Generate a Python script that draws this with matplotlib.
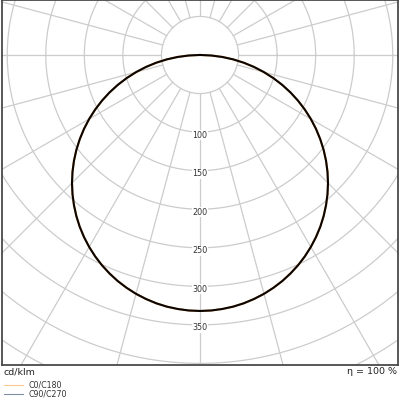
import numpy as np
import matplotlib
matplotlib.use("Agg")
import matplotlib.pyplot as plt

# Data (cd/klm), gamma in degrees
gamma_deg = [0, 2.5, 5, 7.5, 10, 12.5, 15, 17.5, 20, 22.5, 25, 27.5, 30, 32.5, 35, 37.5,
             40, 42.5, 45, 47.5, 50, 52.5, 55, 57.5, 60, 62.5, 65, 67.5, 70, 72.5, 75,
             77.5, 80, 82.5, 85, 87.5, 90]
c0_c180 = [332, 331.7, 330.7, 329.2, 327, 324.1, 320.7, 316.6, 312, 306.7, 300.9, 294.5,
           287.5, 280, 272, 263.4, 254.3, 244.8, 234.8, 224.3, 213.4, 202.1, 190.4, 178.4,
           166, 153.3, 140.3, 127.1, 113.6, 99.8, 85.9, 71.9, 57.7, 43.3, 28.9, 14.5, 1]
c90_c270 = [332, 331.7, 330.7, 329.2, 327, 324.1, 320.7, 316.6, 312, 306.7, 300.9, 294.5,
            287.5, 280, 272, 263.4, 254.3, 244.8, 234.8, 224.3, 213.4, 202.1, 190.4, 178.4,
            166, 153.3, 140.3, 127.1, 113.6, 99.8, 85.9, 71.9, 57.7, 43.3, 28.9, 14.5, 1]
ring_labels = [100, 150, 200, 250, 300, 350]
unit_label = "cd/klm"
eta_label = "η = 100 %"
legend_labels = ["C0/C180", "C90/C270"]

W, H = 400, 400
fig = plt.figure(figsize=(4, 4), dpi=100)
k = 0.771  # px per cd/klm
ax_l, ax_r, ax_t, ax_b = 2, 398, 0, 365
cx, cy = 200, 55
ax = fig.add_axes([ax_l / W, (H - ax_b) / H, (ax_r - ax_l) / W, (ax_b - ax_t) / H])
ax.set_xlim(-(cx - ax_l) / k, (ax_r - cx) / k)
ax.set_ylim(-(ax_b - cy) / k, (cy - ax_t) / k)
ax.set_xticks([])
ax.set_yticks([])
for s in ax.spines.values():
    s.set_color("#4a4a4a")
    s.set_linewidth(1.3)

grid_c = "#cccccc"
t = np.linspace(0, 2 * np.pi, 400)
for r in range(50, 701, 50):
    ax.plot(r * np.cos(t), r * np.sin(t), color=grid_c, lw=0.9, zorder=1)
for a in range(0, 360, 15):
    ar = np.radians(a)
    ax.plot([50 * np.cos(ar), 800 * np.cos(ar)], [50 * np.sin(ar), 800 * np.sin(ar)],
            color=grid_c, lw=0.9, zorder=1)

for r in ring_labels:
    ax.text(0, -(r + 4), str(r), ha="center", va="center", fontsize=5.8, color="#333333",
            bbox=dict(facecolor="white", edgecolor="none", pad=0.3), zorder=3)

def curve(vals):
    g = np.radians(np.array(gamma_deg, dtype=float))
    v = np.array(vals, dtype=float)
    gg = np.concatenate([-g[::-1], g[1:]])
    vv = np.concatenate([v[::-1], v[1:]])
    return vv * np.sin(gg), -vv * np.cos(gg)

x1, y1 = curve(c0_c180)
x2, y2 = curve(c90_c270)
ax.plot(x1, y1, color="#f5b070", lw=1.5, zorder=4)
ax.plot(x2, y2, color="#0a0500", lw=1.5, zorder=5, solid_joinstyle="round")

fig.text(4 / W, 1 - 372 / H, unit_label, ha="left", va="center", fontsize=6.8, color="#222222")
fig.text(397 / W, 1 - 372 / H, eta_label, ha="right", va="center", fontsize=6.8, color="#222222")

leg_colors = ["#f8c890", "#8090a8"]
for i, (lab, c) in enumerate(zip(legend_labels, leg_colors)):
    yy = 1 - (385.3 + 8.4 * i) / H
    fig.add_artist(matplotlib.lines.Line2D([4 / W, 23 / W], [yy, yy], color=c, lw=0.8))
    fig.text(28 / W, yy, lab, ha="left", va="center", fontsize=5.7, color="#333333")

fig.savefig("out.png", dpi=100, facecolor="white")
